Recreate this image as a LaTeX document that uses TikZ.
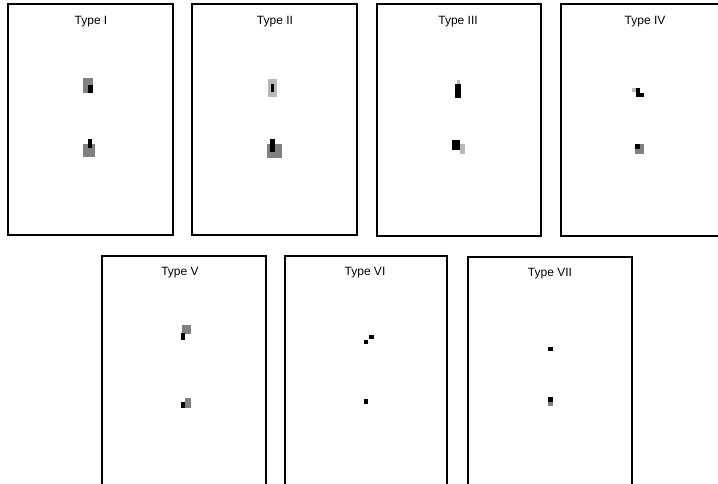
\documentclass[tikz,border=0pt]{standalone}
\usepackage{fontspec}
\setmainfont{Liberation Sans}
\begin{document}
\begin{tikzpicture}[x=1pt,y=-1pt,
  frame/.style={draw=black,line width=1.3pt},
  title/.style={font=\fontsize{12}{14}\selectfont,inner sep=0pt},
  gblob/.style={fill=black!50,draw=none},
  lblob/.style={fill=black!28,draw=none},
  dblob/.style={fill=black,draw=none}]
\useasboundingbox (0,0) rectangle (718,484);
% frames
\draw[frame] (8,4) rectangle (173,235);
\draw[frame] (192,4) rectangle (357,235);
\draw[frame] (377,4) rectangle (541,236);
\draw[frame] (561,4) rectangle (721,236);
\draw[frame] (102,256) rectangle (266,488);
\draw[frame] (285,256) rectangle (447,488);
\draw[frame] (468,257) rectangle (632,488);
% titles
\node[title] (t1) at (91,22) {Type I};
\node[title] (t2) at (275,22) {Type II};
\node[title] (t3) at (458,22) {Type III};
\node[title] (t4) at (645,22) {Type IV};
\node[title] (t5) at (180,273) {Type V};
\node[title] (t6) at (365,273) {Type VI};
\node[title] (t7) at (550,274) {Type VII};
% Type I
\fill[gblob] (83,78) rectangle (93,93);
\fill[dblob] (88,85) rectangle (93,93);
\fill[gblob] (83,144) rectangle (95,157);
\fill[dblob] (88,139) rectangle (92,148);
% Type II
\fill[lblob] (268,79) rectangle (277,97);
\fill[dblob] (271,84) rectangle (274,92);
\fill[gblob] (267,144) rectangle (282,158);
\fill[dblob] (270,139) rectangle (275,152);
% Type III
\fill[dblob] (455,84) rectangle (461,98);
\fill[lblob] (457,80) rectangle (460,84);
\fill[dblob] (452,140) rectangle (460,150);
\fill[lblob] (460,144) rectangle (465,154);
% Type IV
\fill[dblob] (636,88) rectangle (640,97);
\fill[dblob] (636,93) rectangle (644,97);
\fill[lblob] (632,88) rectangle (636,92);
\fill[gblob] (635,144) rectangle (644,154);
\fill[dblob] (635,144) rectangle (640,149);
% Type V
\fill[gblob] (182,325) rectangle (191,334);
\fill[dblob] (181,333) rectangle (185,340);
\fill[dblob] (181,402) rectangle (187,408);
\fill[gblob] (185,398) rectangle (191,408);
% Type VI
\fill[dblob] (369,335) rectangle (374,339);
\fill[dblob] (364,340) rectangle (368,344);
\fill[dblob] (364,399) rectangle (368,404);
% Type VII
\fill[dblob] (548,347) rectangle (553,351);
\fill[dblob] (548,397) rectangle (553,402);
\fill[gblob] (548,402) rectangle (553,406);
\end{tikzpicture}
\end{document}
